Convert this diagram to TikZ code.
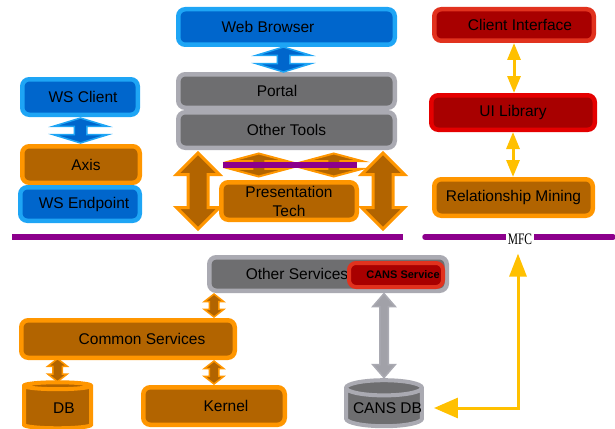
\documentclass[tikz,border=0pt]{standalone}
\usepackage{fontspec}
\setmainfont{Liberation Sans}
\newfontfamily\mfcfont{Liberation Serif}
\usetikzlibrary{calc,positioning,shapes.geometric,shapes.arrows,arrows.meta}

\definecolor{bluefill}{RGB}{0,102,204}
\definecolor{blueline}{RGB}{30,165,245}
\definecolor{grayfill}{RGB}{110,110,112}
\definecolor{grayline}{RGB}{170,170,178}
\definecolor{orangefill}{RGB}{178,100,0}
\definecolor{orangeline}{RGB}{255,150,0}
\definecolor{redfill}{RGB}{168,0,0}
\definecolor{redline}{RGB}{225,50,30}
\definecolor{redbright}{RGB}{228,0,0}
\definecolor{purpleline}{RGB}{140,0,140}
\definecolor{yellowline}{RGB}{255,192,0}

\tikzset{
	box/.style={rounded corners=7pt, line width=4.5pt, text=black, align=center, inner sep=0pt,
		font=\fontsize{15.5}{19}\selectfont},
	bluebox/.style={box, draw=blueline, fill=bluefill},
	graybox/.style={box, draw=grayline, fill=grayfill},
	orangebox/.style={box, draw=orangeline, fill=orangefill},
	redbox/.style={box, draw=redline, fill=redfill},
	dbcyl/.style={cylinder, shape border rotate=90, aspect=0.2, line width=4pt, inner sep=0pt,
		text=black, font=\fontsize{15.5}{18}\selectfont},
	blockarr/.style={double arrow, rotate=90, inner xsep=0pt, minimum width=0pt},
	bluearr/.style={blockarr, draw=blueline, fill=bluefill, line width=1.5pt,
		inner ysep=5.5pt, double arrow head extend=21pt, double arrow tip angle=146, minimum height=25pt},
	bigarr/.style={blockarr, draw=orangeline, fill=orangefill, line width=3pt,
		inner ysep=8.5pt, double arrow head extend=11.5pt, double arrow tip angle=90, minimum height=76pt},
	wideorarr/.style={blockarr, draw=orangeline, fill=orangefill, line width=2pt,
		inner ysep=5.5pt, double arrow head extend=22pt, double arrow tip angle=150, minimum height=23pt},
	smallorarr/.style={blockarr, draw=orangeline, fill=orangefill, line width=1.5pt,
		inner ysep=4pt, double arrow head extend=5pt, double arrow tip angle=104, minimum height=23pt},
	grayarr/.style={blockarr, draw=grayline, fill=grayline!80!gray, line width=1.5pt,
		inner ysep=3.5pt, double arrow head extend=7pt, double arrow tip angle=82, minimum height=84pt},
	yelarr/.style={draw=yellowline, line width=3pt,
		arrows={Triangle[width=13pt,length=17pt]-Triangle[width=13pt,length=17pt]}},
	mfcarr/.style={draw=yellowline, line width=3pt,
		arrows={Triangle[width=17pt,length=23pt]-Triangle[width=20pt,length=24pt]}},
	purplebar/.style={draw=purpleline, line width=5.5pt},
}

\begin{document}
\begin{tikzpicture}[x=1pt,y=-1pt]
			%%%%% START %%%%%
			\useasboundingbox (0,0) rectangle (615,428);
			
			% top middle stack
			\node[bluebox, minimum width=216.5pt, minimum height=35.5pt] (web) at (286.5,27) {Web Browser\hspace*{37pt}};
			\node[graybox, minimum width=216.5pt, minimum height=33.5pt] (portal) at (286.5,91) {Portal\hspace*{19pt}};
			\node[graybox, minimum width=216.5pt, minimum height=35.5pt] (tools) at (286.5,130) {Other Tools};
			\node[orangebox, minimum width=135.5pt, minimum height=37.5pt] (pres) at (289,201) {Presentation\\Tech};
			
			% web service stack
			\node[bluebox, minimum width=115.5pt, minimum height=35.5pt] (wsclient) at (80,97) {\hspace*{6pt}WS Client};
			\node[orangebox, minimum width=117.5pt, minimum height=36.5pt] (axis) at (81,164.5) {\hspace*{10pt}Axis};
			\node[bluebox, minimum width=119.5pt, minimum height=33.5pt] (wsend) at (80,204) {\hspace*{8pt}WS Endpoint};
			
			% client stack
			\node[redbox, minimum width=159.5pt, minimum height=31.5pt] (client) at (514,25) {\hspace*{12pt}Client Interface};
			\node[redbox, draw=redbright, minimum width=163.5pt, minimum height=34.5pt] (uilib) at (513,112.5) {UI Library};
			\node[orangebox, minimum width=158.5pt, minimum height=36.5pt] (relmin) at (513.5,197.5) {Relationship Mining};
			
			% services
			\node[graybox, minimum width=237.5pt, minimum height=33.5pt] (othersvc) at (328,274) {Other Services\hspace*{62pt}};
			\node[redbox, line width=4pt, minimum width=94pt, minimum height=24pt,
				font=\fontsize{11}{13}\selectfont\bfseries] (cans) at (396,275) {\hspace*{14pt}CANS Service};
			\node[orangebox, minimum width=213.5pt, minimum height=37.5pt] (common) at (128,339) {\hspace*{28pt}Common Services};
			\node[orangebox, minimum width=141.5pt, minimum height=37.5pt] (kernel) at (214,406) {\hspace*{24pt}Kernel};
			\node[dbcyl, draw=orangeline, fill=orangefill, minimum width=67pt, minimum height=46pt] (db) at (57.5,408) {\hspace*{13pt}DB};
			\node[dbcyl, draw=grayline, fill=grayfill, minimum width=70pt, minimum height=46pt] (cansdb) at (384,408) {\hspace*{7pt}CANS DB};
			
			% bars
			\draw[purplebar] (12,237) -- (403,237);
			\draw[purplebar, line cap=round] (425,237) -- (613,237);
			\node[fill=white, inner xsep=2pt, inner ysep=1pt, font=\mfcfont\fontsize{16}{17}\selectfont] (mfc) at (520,239) {\scalebox{0.72}[1]{MFC}};
			
			% block arrows
			\node[bluearr] (webarr) at ($(web.south)!0.5!(portal.north)+(-3,0)$) {};
			\node[bluearr] (wsarr) at ($(wsclient.south)!0.5!(axis.north)$) {};
			\node[bigarr] (leftarr) at (198,191) {};
			\node[bigarr] (rightarr) at (383,191) {};
			\node[wideorarr] (presarr1) at ($(tools.south)!0.5!(pres.north)+(-29,0)$) {};
			\node[wideorarr] (presarr2) at ($(tools.south)!0.5!(pres.north)+(46,0)$) {};
			\draw[purplebar] (223,165) -- (357,165);
			\coordinate (svcmid) at ($(othersvc.south)!0.5!(common.north)$);
			\node[smallorarr] (svcarr) at (svcmid -| kernel.north) {};
			\node[smallorarr] (dbarr) at ($(db.north)!0.5!(db.north |- common.south)$) {};
			\node[smallorarr] (kernarr) at ($(kernel.north)!0.5!(kernel.north |- common.south)$) {};
			\node[grayarr] (cansarr) at ($(cansdb.north)!0.5!(cansdb.north |- othersvc.south)$) {};
			
			% yellow links
			\draw[yelarr] (client.south) -- (client.south |- uilib.north);
			\draw[yelarr] (uilib.south) -- (uilib.south |- relmin.north);
			\draw[mfcarr, shorten <=8pt, shorten >=10pt] ([xshift=-2pt]mfc.south) |- (cansdb.east);
			
			%%%%% END %%%%%
\end{tikzpicture}
\end{document}
